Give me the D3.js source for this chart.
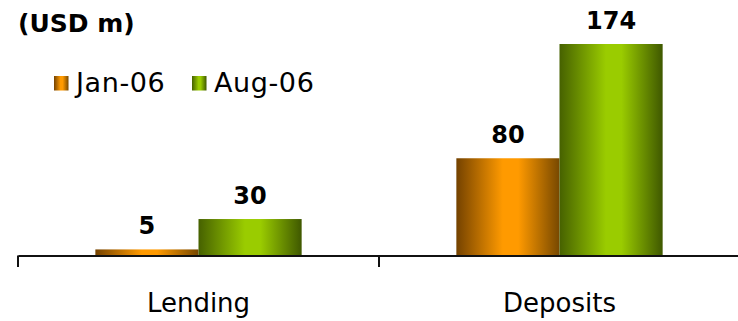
<!DOCTYPE html>
<html>
<head>
<meta charset="utf-8">
<script src="https://cdn.jsdelivr.net/npm/d3@7"></script>
<style>
  html, body { margin: 0; padding: 0; background: #fff; }
  svg { display: block; }
  text { font-family: "DejaVu Sans", Verdana, sans-serif; fill: #000; }
</style>
</head>
<body>
<svg id="chart" width="738" height="321"></svg>
<script>
// Balances in USD millions
const categories = ["Lending", "Deposits"];
const seriesNames = ["Jan-06", "Aug-06"];
const jan06 = [5, 80];
const aug06 = [30, 174];
const unitLabel = "(USD m)";

const W = 738, H = 321;
const baseY = 255.5;
const svg = d3.select("#chart");

// Shaded bar fills (dark edges, bright centre)
const defs = svg.append("defs");
const shades = [
  { id: "gOrange", edge: "#744200", mid: "#ff9a00", edgeR: "#774800" },
  { id: "gGreen", edge: "#466100", mid: "#9acc00", edgeR: "#3f5800" }
];
shades.forEach(s => {
  const g = defs.append("linearGradient").attr("id", s.id)
    .attr("x1", "0%").attr("x2", "100%").attr("y1", "0%").attr("y2", "0%");
  g.append("stop").attr("offset", "0%").attr("stop-color", s.edge);
  g.append("stop").attr("offset", "45%").attr("stop-color", s.mid);
  g.append("stop").attr("offset", "60%").attr("stop-color", s.mid);
  g.append("stop").attr("offset", "100%").attr("stop-color", s.edgeR);
});
const fills = ["url(#gOrange)", "url(#gGreen)"];

const x0 = d3.scaleBand().domain(categories).range([18, 740]).paddingInner(0).paddingOuter(0);
const x1 = d3.scaleBand().domain(seriesNames).range([0, x0.bandwidth()]).paddingInner(0).paddingOuter(0.75);
const y = d3.scaleLinear().domain([0, 174]).range([baseY, 44]);

const rows = categories.map((c, i) => ({ cat: c, vals: [jan06[i], aug06[i]] }));

const groups = svg.append("g").selectAll("g").data(rows).join("g")
  .attr("transform", d => `translate(${x0(d.cat)},0)`);

groups.selectAll("rect").data(d => d.vals.map((v, k) => ({ v, k })))
  .join("rect")
  .attr("x", d => x1(seriesNames[d.k]))
  .attr("width", x1.bandwidth())
  .attr("y", d => y(d.v))
  .attr("height", d => baseY - y(d.v))
  .attr("fill", d => fills[d.k]);

groups.selectAll("text.val").data(d => d.vals.map((v, k) => ({ v, k })))
  .join("text").attr("class", "val")
  .attr("x", d => x1(seriesNames[d.k]) + x1.bandwidth() / 2)
  .attr("y", d => y(d.v) - 15)
  .attr("text-anchor", "middle")
  .attr("font-size", 24).attr("font-weight", "bold")
  .text(d => d.v);

// Category axis
const axis = d3.axisBottom(x0).tickSize(0).tickPadding(0);
const ax = svg.append("g").attr("transform", `translate(0,${baseY})`).call(axis);
ax.select(".domain").attr("stroke", "#111").attr("stroke-width", 2);
ax.selectAll(".tick text").attr("font-size", 26)
  .attr("font-family", "'DejaVu Sans', Verdana, sans-serif")
  .attr("fill", "#000").attr("y", 56).attr("dy", 0);
// Group separators
const seps = [x0.range()[0]].concat(categories.map(c => x0(c) + x0.bandwidth()));
ax.selectAll("line.sep").data(seps).join("line").attr("class", "sep")
  .attr("x1", d => d).attr("x2", d => d).attr("y1", 0).attr("y2", 11.5)
  .attr("stroke", "#111").attr("stroke-width", 2);

// Unit label
svg.append("text").attr("x", 18).attr("y", 32)
  .attr("font-size", 25).attr("font-weight", "bold").text(unitLabel);

// Legend
const legendX = [54, 192];
const leg = svg.append("g").selectAll("g").data(seriesNames).join("g")
  .attr("transform", (d, i) => `translate(${legendX[i]},76)`);
leg.append("rect").attr("width", 14.5).attr("height", 14.5).attr("fill", (d, i) => fills[i]);
leg.append("text").attr("x", 22).attr("y", 15.5).attr("font-size", 27)
  .attr("letter-spacing", 0.6).text(d => d);
</script>
</body>
</html>
